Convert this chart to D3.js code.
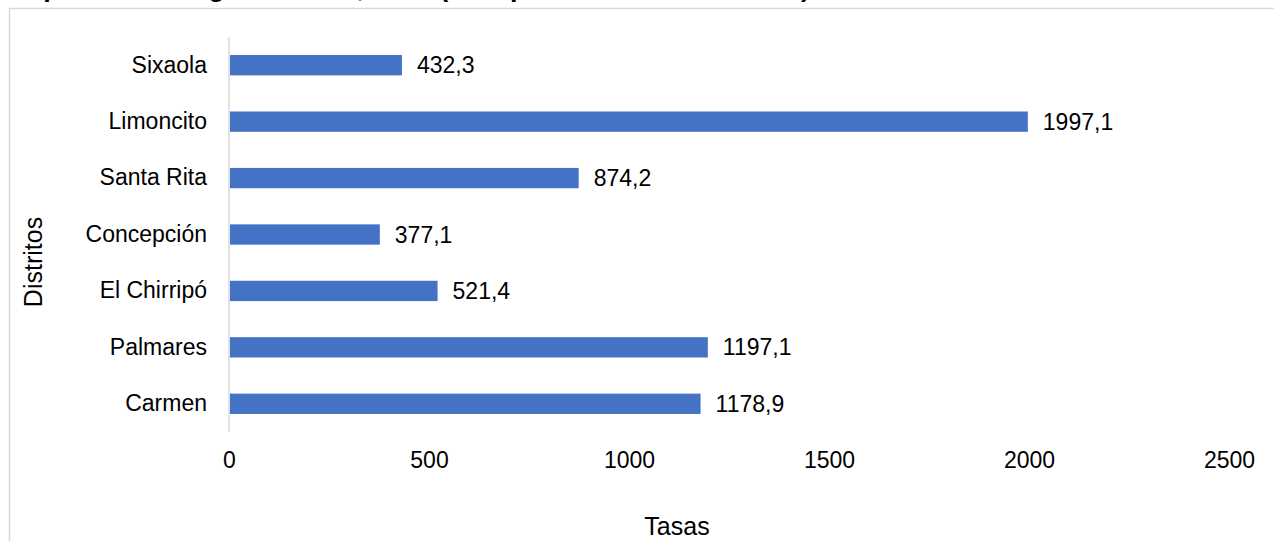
<html>
    <!DOCTYPE html>
    <meta charset="utf-8">
    <head>
        <script src="https://cdn.jsdelivr.net/npm/d3@7/dist/d3.min.js"></script>
        <style>
            body {
                margin: 0;
                background: #fff;
            }
            text {
                font-family: Arial, "Liberation Sans", sans-serif;
                fill: #000;
            }
            .frame {
                fill: none;
                stroke: #d9d9d9;
                stroke-width: 1.5;
            }
        </style>
    </head>

    <body>
        <div id="chart"></div>

        <script>
            // data
            var distritos = ["Sixaola", "Limoncito", "Santa Rita", "Concepción", "El Chirripó", "Palmares", "Carmen"];
            var tasas = [432.3, 1997.1, 874.2, 377.1, 521.4, 1197.1, 1178.9];
            var xTicks = [0, 500, 1000, 1500, 2000, 2500];
            var titulo = "Tasa de incidencia en población según distrito, 2022 (tasa por 100 000 habitantes)";

            var width = 1274;
            var height = 541;

            var svg = d3.select("#chart").append("svg")
                .attr("width", width)
                .attr("height", height);

            // chart frame (cut off on the right and bottom)
            svg.append("rect")
                .attr("class", "frame")
                .attr("x", 9.5)
                .attr("y", 8.5)
                .attr("width", width + 20)
                .attr("height", height + 20);

            // title, mostly cut off at the top (only descenders show)
            svg.append("text")
                .attr("x", 810)
                .attr("y", -4)
                .attr("text-anchor", "end")
                .attr("font-size", "27px")
                .attr("font-weight", "bold")
                .text(titulo);

            var x = d3.scaleLinear()
                .domain([0, 2500])
                .range([229, 1229]);

            var y = d3.scaleBand()
                .domain(distritos)
                .range([37, 432])
                .paddingInner(0.64)
                .paddingOuter(0.32);

            // vertical axis line
            svg.append("line")
                .attr("x1", x(0)).attr("x2", x(0))
                .attr("y1", 37).attr("y2", 432)
                .attr("stroke", "#d9d9d9")
                .attr("stroke-width", 1.5);

            // bars
            svg.append("g")
                .selectAll("rect")
                .data(distritos)
                .enter().append("rect")
                .attr("x", x(0) + 1)
                .attr("y", function(d) { return y(d); })
                .attr("width", function(d, i) { return x(tasas[i]) - x(0) - 1; })
                .attr("height", y.bandwidth())
                .attr("fill", "#4472C4");

            // value labels
            var fmt = function(v) { return d3.format(".1f")(v).replace(".", ","); };
            svg.append("g")
                .selectAll("text")
                .data(distritos)
                .enter().append("text")
                .attr("x", function(d, i) { return x(tasas[i]) + 15; })
                .attr("y", function(d) { return y(d) + y.bandwidth() / 2; })
                .attr("dy", "0.35em")
                .attr("font-size", "23px")
                .text(function(d, i) { return fmt(tasas[i]); });

            // category labels
            var yAxis = d3.axisLeft(y).tickSize(0).tickPadding(22);
            svg.append("g")
                .attr("transform", "translate(" + x(0) + ",0)")
                .call(yAxis)
                .call(function(g) { g.select(".domain").remove(); })
                .selectAll("text")
                .attr("font-size", "23px")
                .attr("font-family", null);

            // x tick labels
            var xAxis = d3.axisBottom(x).tickValues(xTicks).tickSize(0).tickPadding(0)
                .tickFormat(d3.format("d"));
            svg.append("g")
                .attr("transform", "translate(0,468)")
                .call(xAxis)
                .call(function(g) { g.select(".domain").remove(); })
                .selectAll("text")
                .attr("dy", null)
                .attr("font-size", "23px")
                .attr("font-family", null);

            // axis titles
            svg.append("text")
                .attr("x", 677)
                .attr("y", 535)
                .attr("text-anchor", "middle")
                .attr("font-size", "25px")
                .text("Tasas");

            svg.append("text")
                .attr("transform", "translate(42,262) rotate(-90)")
                .attr("text-anchor", "middle")
                .attr("font-size", "25px")
                .text("Distritos");
        </script>
    </body>
</html>
